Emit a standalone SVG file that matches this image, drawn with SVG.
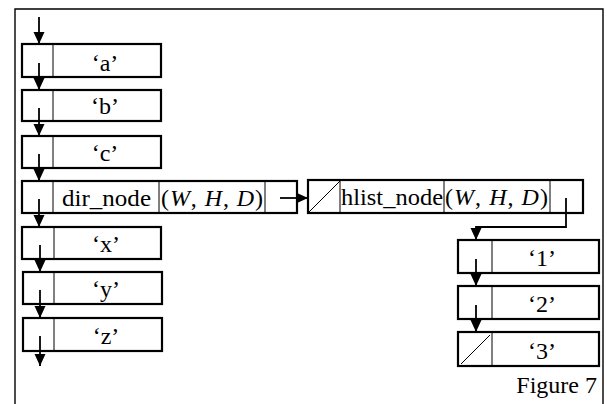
<svg xmlns="http://www.w3.org/2000/svg" width="607" height="404" viewBox="0 0 607 404">
  <style>
    .frame { fill: none; stroke: #000; stroke-width: 1.4; }
    .box { fill: #fff; stroke: #000; stroke-width: 2.2; }
    .div { stroke: #000; stroke-width: 1; }
    .link { fill: none; stroke: #000; stroke-width: 1.8; }
    .lbl { font-family: "Liberation Serif", "Times New Roman", serif; font-size: 24px; fill: #000; }
    .it { font-style: italic; }
  </style>
  <defs>
    <marker id="head" markerUnits="userSpaceOnUse" markerWidth="13" markerHeight="12" refX="12" refY="5.5" orient="auto">
      <path d="M0,0 L12,5.5 L0,11 Z" fill="#000"/>
    </marker>
  </defs>

  <rect width="607" height="404" fill="#fff"/>

  <!-- outer frame, open at the bottom -->
  <path class="frame" d="M15,404 V9 H603 V404"/>

  <!-- character list -->
  <g id="node-a">
    <rect class="box" x="22" y="44" width="139" height="33"/>
    <line class="div" x1="53" y1="44" x2="53" y2="77"/>
    <text class="lbl" x="105" y="71" text-anchor="middle">‘a’</text>
  </g>
  <g id="node-b">
    <rect class="box" x="22" y="90" width="139" height="31"/>
    <line class="div" x1="53" y1="90" x2="53" y2="121"/>
    <text class="lbl" x="105" y="114" text-anchor="middle">‘b’</text>
  </g>
  <g id="node-c">
    <rect class="box" x="22" y="136" width="139" height="32"/>
    <line class="div" x1="53" y1="136" x2="53" y2="168"/>
    <text class="lbl" x="105" y="161" text-anchor="middle">‘c’</text>
  </g>
  <g id="node-dir">
    <rect class="box" x="22" y="181" width="275" height="32"/>
    <line class="div" x1="53" y1="181" x2="53" y2="213"/>
    <line class="div" x1="159" y1="181" x2="159" y2="213"/>
    <line class="div" x1="265" y1="181" x2="265" y2="213"/>
    <text class="lbl" x="62" y="206" textLength="89" lengthAdjust="spacingAndGlyphs">dir_node</text>
    <text class="lbl" x="161" y="206" textLength="102" lengthAdjust="spacing">(<tspan class="it">W</tspan>, <tspan class="it">H</tspan>, <tspan class="it">D</tspan>)</text>
  </g>
  <g id="node-x">
    <rect class="box" x="22" y="227" width="139" height="32"/>
    <line class="div" x1="54" y1="227" x2="54" y2="259"/>
    <text class="lbl" x="106" y="252" text-anchor="middle">‘x’</text>
  </g>
  <g id="node-y">
    <rect class="box" x="23" y="272" width="139" height="32"/>
    <line class="div" x1="54" y1="272" x2="54" y2="304"/>
    <text class="lbl" x="106" y="297" text-anchor="middle">‘y’</text>
  </g>
  <g id="node-z">
    <rect class="box" x="23" y="318" width="139" height="33"/>
    <line class="div" x1="54" y1="318" x2="54" y2="351"/>
    <text class="lbl" x="106" y="344" text-anchor="middle">‘z’</text>
  </g>

  <!-- box list -->
  <g id="node-hlist">
    <rect class="box" x="308" y="180" width="275" height="33"/>
    <line class="div" x1="340" y1="180" x2="340" y2="213"/>
    <line class="div" x1="444" y1="180" x2="444" y2="213"/>
    <line class="div" x1="550" y1="180" x2="550" y2="213"/>
    <line class="div" x1="309" y1="212" x2="340" y2="181"/>
    <text class="lbl" x="341" y="205" textLength="102" lengthAdjust="spacingAndGlyphs">hlist_node</text>
    <text class="lbl" x="445" y="205" textLength="103" lengthAdjust="spacing">(<tspan class="it">W</tspan>, <tspan class="it">H</tspan>, <tspan class="it">D</tspan>)</text>
  </g>
  <g id="node-1">
    <rect class="box" x="458" y="240" width="141" height="33"/>
    <line class="div" x1="492" y1="240" x2="492" y2="273"/>
    <text class="lbl" x="542" y="266" text-anchor="middle">‘1’</text>
  </g>
  <g id="node-2">
    <rect class="box" x="458" y="286" width="141" height="33"/>
    <line class="div" x1="492" y1="286" x2="492" y2="319"/>
    <text class="lbl" x="542" y="312" text-anchor="middle">‘2’</text>
  </g>
  <g id="node-3">
    <rect class="box" x="458" y="332" width="141" height="34"/>
    <line class="div" x1="492" y1="332" x2="492" y2="366"/>
    <line class="div" x1="461" y1="364" x2="490" y2="335"/>
    <text class="lbl" x="542" y="359" text-anchor="middle">‘3’</text>
  </g>

  <!-- pointers -->
  <g id="connectors">
    <line class="link" x1="39" y1="17" x2="39" y2="44" marker-end="url(#head)"/>
    <line class="link" x1="39" y1="63" x2="39" y2="90" marker-end="url(#head)"/>
    <line class="link" x1="39" y1="108" x2="39" y2="136" marker-end="url(#head)"/>
    <line class="link" x1="39" y1="154" x2="39" y2="181" marker-end="url(#head)"/>
    <line class="link" x1="39" y1="199" x2="39" y2="227" marker-end="url(#head)"/>
    <line class="link" x1="40" y1="245" x2="40" y2="272" marker-end="url(#head)"/>
    <line class="link" x1="40" y1="290" x2="40" y2="318" marker-end="url(#head)"/>
    <line class="link" x1="40" y1="336" x2="40" y2="366" marker-end="url(#head)"/>
    <line class="link" x1="280" y1="198" x2="308" y2="198" marker-end="url(#head)"/>
    <polyline class="link" points="566,198 566,227 476,227 476,240" marker-end="url(#head)"/>
    <line class="link" x1="476" y1="259" x2="476" y2="286" marker-end="url(#head)"/>
    <line class="link" x1="476" y1="305" x2="476" y2="332" marker-end="url(#head)"/>
  </g>

  <text class="lbl" x="597" y="393" text-anchor="end">Figure 7</text>
</svg>
